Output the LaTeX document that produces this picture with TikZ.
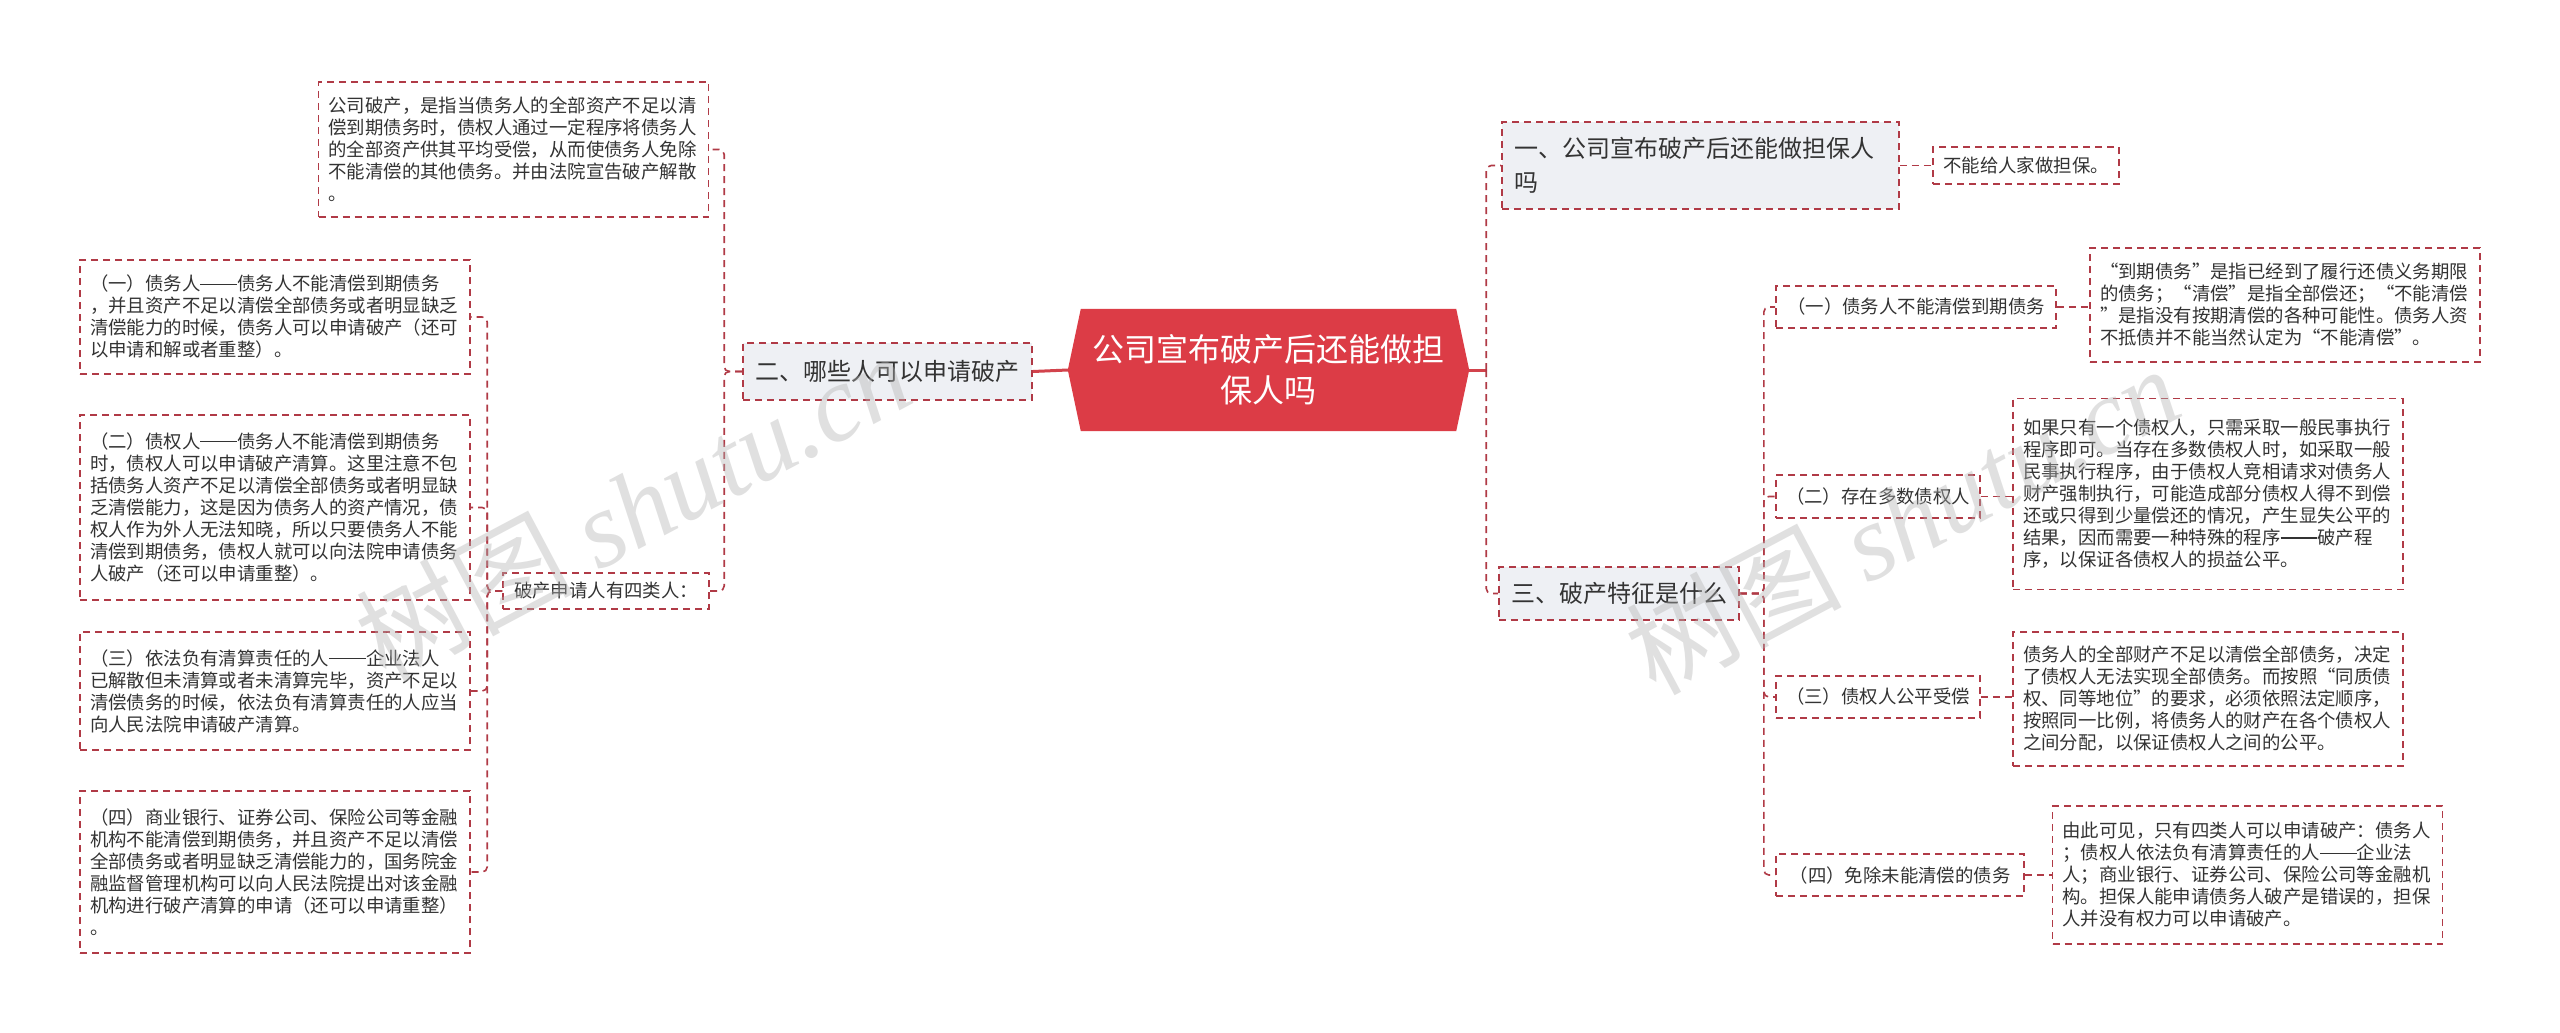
\documentclass[tikz,border=0pt]{standalone}
\usepackage{fontspec}
\setmainfont{Noto Sans CJK SC}[RawFeature=+fwid]
\newfontfamily\wmcjk{Noto Sans CJK SC}
\newfontfamily\wmlatin{Liberation Serif}
\usetikzlibrary{calc,backgrounds}
\definecolor{lc}{HTML}{B03A46}
\definecolor{tc}{HTML}{333333}
\definecolor{cf}{HTML}{DC3C46}
\definecolor{lf}{HTML}{EEF0F4}
\definecolor{mc}{HTML}{D2434C}
\newcommand{\dsh}{\rule[0.34em]{2em}{0.06em}}
\begin{document}
\begin{tikzpicture}[x=1pt,y=-1pt,
  dashbox/.style={draw=lc, line width=1.6pt, dash pattern=on 7pt off 5pt},
  ctrbox/.style={minimum width=401pt, minimum height=122pt, inner sep=0pt, align=center, text=white, font=\fontsize{32}{41}\selectfont},
  lone/.style={dashbox, fill=lf, text=tc, font=\fontsize{24}{34}\selectfont, inner xsep=12pt, inner ysep=8pt},
  ltwo/.style={dashbox, fill=white, text=tc, font=\fontsize{18.4}{22}\selectfont, inner xsep=10pt, inner ysep=8pt},
  leaf/.style={ltwo, align=left, text width=370pt},
  conn/.style={draw=lc, line width=1.6pt, dash pattern=on 7pt off 5pt, rounded corners=5pt},
  mainconn/.style={draw=mc, line width=3pt},
  wm/.style={text=gray!60, opacity=0.4, font=\fontsize{108}{108}\selectfont, rotate=28}
]
\begin{scope}[on background layer]
\fill[white] (0,0) rectangle (2560,1033);
\end{scope}
\useasboundingbox (0,0) rectangle (2560,1033);

% centre
\node[ctrbox] (ctr) at (1268.5,370) {公司宣布破产后还能做担\\保人吗};
\begin{scope}[on background layer]
\fill[cf] (ctr.west) -- ([xshift=13pt]ctr.north west) -- ([xshift=-13pt]ctr.north east) -- (ctr.east) -- ([xshift=-13pt]ctr.south east) -- ([xshift=13pt]ctr.south west) -- cycle;
\end{scope}

% level one
\node[lone, minimum width=289pt, minimum height=57pt] (q2) at (887.5,371.5) {二、哪些人可以申请破产};
\node[lone, text width=373pt, align=left, minimum height=87pt] (q1) at (1700.5,165.5) {一、公司宣布破产后还能做担保人\\吗};
\node[lone, minimum width=234pt, minimum height=53pt] (q3) at (1619,593.5) {三、破产特征是什么};

% right side
\node[ltwo, minimum width=186pt, minimum height=37pt] (q1a) at (2026,165.5) {不能给人家做担保。};
\node[ltwo, minimum width=280pt, minimum height=42pt] (s1) at (1916,307) {（一）债务人不能清偿到期债务};
\node[ltwo, minimum width=204pt, minimum height=43pt] (s2) at (1878,496.5) {（二）存在多数债权人};
\node[ltwo, minimum width=204pt, minimum height=42pt] (s3) at (1878,697) {（三）债权人公平受偿};
\node[ltwo, minimum width=248pt, minimum height=42pt] (s4) at (1900,875) {（四）免除未能清偿的债务};

\node[leaf, minimum height=114pt] (s1a) at (2285,305) {“到期债务”是指已经到了履行还债义务期限\\的债务；“清偿”是指全部偿还；“不能清偿\\”是指没有按期清偿的各种可能性。债务人资\\不抵债并不能当然认定为“不能清偿”。};
\node[leaf, minimum height=191pt] (s2a) at (2208,494) {如果只有一个债权人，只需采取一般民事执行\\程序即可。当存在多数债权人时，如采取一般\\民事执行程序，由于债权人竞相请求对债务人\\财产强制执行，可能造成部分债权人得不到偿\\还或只得到少量偿还的情况，产生显失公平的\\结果，因而需要一种特殊的程序\dsh 破产程\\序，以保证各债权人的损益公平。};
\node[leaf, minimum height=134pt] (s3a) at (2208,699) {债务人的全部财产不足以清偿全部债务，决定\\了债权人无法实现全部债务。而按照“同质债\\权、同等地位”的要求，必须依照法定顺序，\\按照同一比例，将债务人的财产在各个债权人\\之间分配，以保证债权人之间的公平。};
\node[leaf, minimum height=138pt] (s4a) at (2247.5,875) {由此可见，只有四类人可以申请破产：债务人\\；债权人依法负有清算责任的人\dsh 企业法\\人；商业银行、证券公司、保险公司等金融机\\构。担保人能申请债务人破产是错误的，担保\\人并没有权力可以申请破产。};

% left side
\node[leaf, minimum height=135pt] (a0) at (513.5,149.5) {公司破产，是指当债务人的全部资产不足以清\\偿到期债务时，债权人通过一定程序将债务人\\的全部资产供其平均受偿，从而使债务人免除\\不能清偿的其他债务。并由法院宣告破产解散\\。};
\node[ltwo, minimum width=206pt, minimum height=36pt] (lp) at (606,591) {破产申请人有四类人：};
\node[leaf, minimum height=114pt] (l1) at (275,317) {（一）债务人\dsh 债务人不能清偿到期债务\\，并且资产不足以清偿全部债务或者明显缺乏\\清偿能力的时候，债务人可以申请破产（还可\\以申请和解或者重整）。};
\node[leaf, minimum height=185pt] (l2) at (275,507.5) {（二）债权人\dsh 债务人不能清偿到期债务\\时，债权人可以申请破产清算。这里注意不包\\括债务人资产不足以清偿全部债务或者明显缺\\乏清偿能力，这是因为债务人的资产情况，债\\权人作为外人无法知晓，所以只要债务人不能\\清偿到期债务，债权人就可以向法院申请债务\\人破产（还可以申请重整）。};
\node[leaf, minimum height=118pt] (l3) at (275,691) {（三）依法负有清算责任的人\dsh 企业法人\\已解散但未清算或者未清算完毕，资产不足以\\清偿债务的时候，依法负有清算责任的人应当\\向人民法院申请破产清算。};
\node[leaf, minimum height=162pt] (l4) at (275,872) {（四）商业银行、证券公司、保险公司等金融\\机构不能清偿到期债务，并且资产不足以清偿\\全部债务或者明显缺乏清偿能力的，国务院金\\融监督管理机构可以向人民法院提出对该金融\\机构进行破产清算的申请（还可以申请重整）\\。};

% connectors
\draw[mainconn] (ctr.west) -- (q2.east);
\coordinate (tr) at ($(ctr.east)+(17,0)$);
\draw[mainconn] (ctr.east) -- (tr);
\draw[conn] (tr) |- (q1.west);
\draw[conn] (tr) |- (q3.west);
\draw[conn] (q1.east) -- (q1a.west);
\draw[conn] (q3.east) -- ++(24,0) |- (s1.west);
\draw[conn] (q3.east) -- ++(24,0) |- (s2.west);
\draw[conn] (q3.east) -- ++(24,0) |- (s3.west);
\draw[conn] (q3.east) -- ++(24,0) |- (s4.west);
\draw[conn] (s1.east) -- (s1.east -| s1a.west);
\draw[conn] (s2.east) -- (s2.east -| s2a.west);
\draw[conn] (s3.east) -- (s3.east -| s3a.west);
\draw[conn] (s4.east) -- (s4.east -| s4a.west);
\draw[conn] (q2.west) -- ++(-18,0) |- (a0.east);
\draw[conn] (q2.west) -- ++(-18,0) |- (lp.east);
\draw[conn] (lp.west) -- ++(-15,0) |- (l1.east);
\draw[conn] (lp.west) -- ++(-15,0) |- (l2.east);
\draw[conn] (lp.west) -- ++(-15,0) |- (l3.east);
\draw[conn] (lp.west) -- ++(-15,0) |- (l4.east);

% watermarks
\node[wm] (wm1) at (633,506) {\wmcjk 树图 {\wmlatin\itshape shutu.cn}};
\node[wm] (wm2) at (1902,519) {\wmcjk 树图 {\wmlatin\itshape shutu.cn}};
\end{tikzpicture}
\end{document}
